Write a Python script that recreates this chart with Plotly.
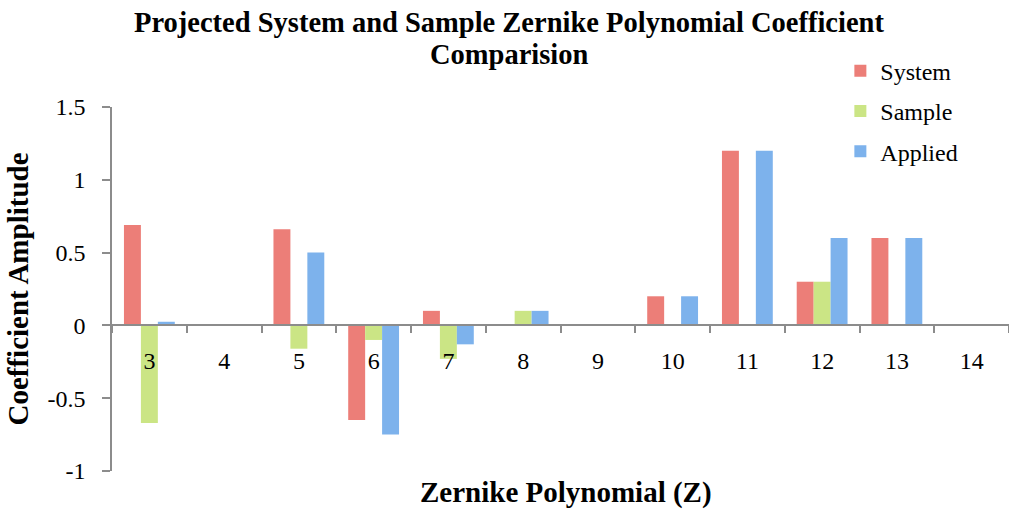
import plotly.graph_objects as go

# Zernike term indices and coefficient amplitudes
zernike_terms = ["3", "4", "5", "6", "7", "8", "9", "10", "11", "12", "13", "14"]
system_coeffs = [0.69, 0.0, 0.66, -0.65, 0.10, 0.0, 0.0, 0.20, 1.20, 0.30, 0.60, 0.0]
sample_coeffs = [-0.67, 0.0, -0.16, -0.10, -0.23, 0.10, 0.0, 0.0, 0.0, 0.30, 0.0, 0.0]
applied_coeffs = [0.025, 0.0, 0.50, -0.75, -0.13, 0.10, 0.0, 0.20, 1.20, 0.60, 0.60, 0.0]

title_lines = ["Projected System and Sample Zernike Polynomial Coefficient", "Comparision"]

series = [
    ("System", system_coeffs, "#ec7e78"),
    ("Sample", sample_coeffs, "#cbe585"),
    ("Applied", applied_coeffs, "#7db2ec"),
]

serif = "Liberation Serif"
axis_grey = "#8c8c8c"

fig = go.Figure()
for name, vals, color in series:
    fig.add_trace(go.Bar(
        x=zernike_terms,
        y=vals,
        name=name,
        legendgroup=name,
        marker=dict(color=color, line=dict(width=0)),
    ))

fig.update_layout(
    width=1009,
    height=509,
    paper_bgcolor="white",
    plot_bgcolor="white",
    barmode="group",
    bargap=0.32,
    bargroupgap=0,
    margin=dict(l=112, r=0, t=107, b=38),
    font=dict(family=serif, color="black", size=24),
    legend=dict(
        x=0.812,
        y=1.16,
        xanchor="left",
        yanchor="top",
        bgcolor="rgba(0,0,0,0)",
        font=dict(family=serif, size=24),
        tracegroupgap=6,
        itemwidth=30,
    ),
    showlegend=True,
)

# two-line chart title, placed as paper-anchored text
for line, ypos in zip(title_lines, [1.2335, 1.1429]):
    fig.add_annotation(
        text=f"<b>{line}</b>",
        x=0.443,
        y=ypos,
        xref="paper",
        yref="paper",
        showarrow=False,
        font=dict(family=serif, size=28.5),
        xanchor="center",
        yanchor="middle",
    )

fig.update_yaxes(
    range=[-1, 1.5],
    tickvals=[-1, -0.5, 0, 0.5, 1, 1.5],
    ticktext=["-1", "-0.5", "0", "0.5", "1", "1.5"],
    showgrid=False,
    zeroline=False,
    showline=True,
    linecolor=axis_grey,
    linewidth=1.5,
    ticks="outside",
    ticklen=8,
    tickcolor=axis_grey,
    tickwidth=1.5,
    tickfont=dict(family=serif, size=24),
    ticklabelstandoff=12,
    title=dict(
        text="<b>Coefficient Amplitude</b>",
        font=dict(family=serif, size=29),
        standoff=10,
    ),
)

fig.update_xaxes(
    type="category",
    anchor="free",
    position=0.4,
    showgrid=False,
    showline=True,
    linecolor=axis_grey,
    linewidth=1.5,
    ticks="outside",
    ticklen=7,
    tickcolor=axis_grey,
    tickwidth=1.5,
    tickson="boundaries",
    tickfont=dict(family=serif, size=24),
    ticklabelstandoff=14,
)

fig.add_annotation(
    text="<b>Zernike Polynomial (Z)</b>",
    x=0.506,
    y=-0.06,
    xref="paper",
    yref="paper",
    showarrow=False,
    font=dict(family=serif, size=29),
    yanchor="middle",
)

fig.write_html("out.html")
